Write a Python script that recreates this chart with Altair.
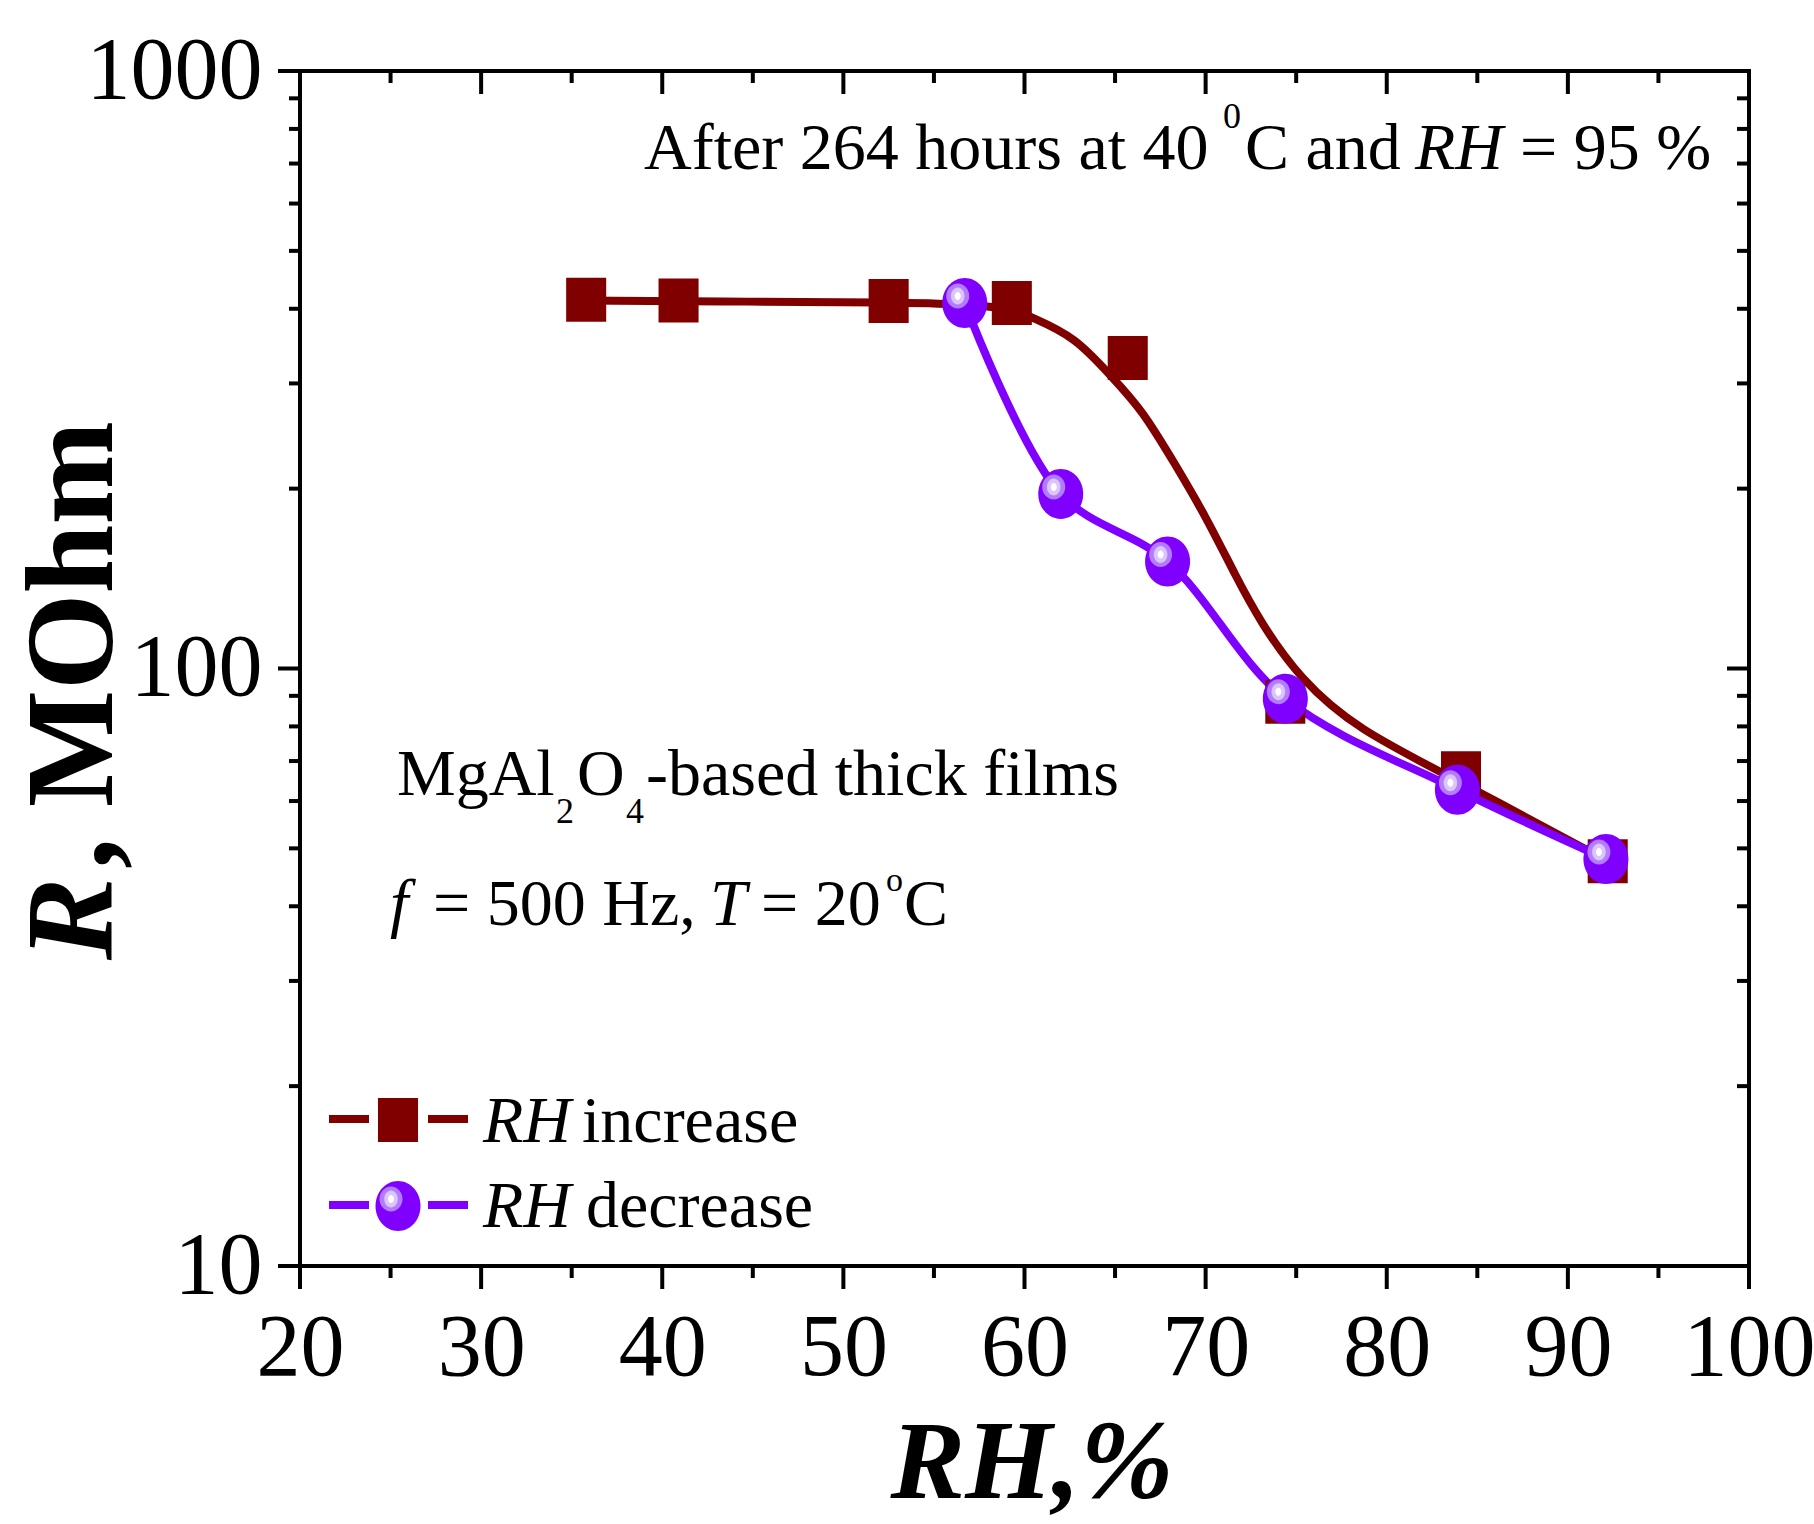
import altair as alt
import pandas as pd

# ---------------- data ----------------
rh_inc = [35.8, 40.9, 52.5, 59.3, 65.7, 74.4, 84.1, 92.2]
r_inc = [414, 413, 412, 409, 331, 88, 66.8, 47.6]

rh_dec = [56.7, 62.0, 67.9, 74.4, 83.9, 92.1]
r_dec = [409, 196, 151, 89, 62.7, 48]

# fitted (smooth) curve drawn through the "RH increase" data
fit_x = [35.8, 45.0, 52.5, 57.0, 59.3, 60.4, 62.8, 64.8, 66.5, 68.3, 70.0, 71.7, 73.0, 75.2, 78.4, 83.5, 92.2]
fit_y = [413, 411, 410, 407, 400, 387, 359, 308, 271, 220, 180, 142, 120, 96, 79, 66, 47.6]

x_major = [20, 30, 40, 50, 60, 70, 80, 90, 100]
x_minor = [25, 35, 45, 55, 65, 75, 85, 95]
y_major = [10, 100, 1000]
y_minor = [20, 30, 40, 50, 60, 70, 80, 90, 200, 300, 400, 500, 600, 700, 800, 900]

# ---------------- style ----------------
W, H = 1449, 1195
FONT = "Liberation Serif"
RED = "#800000"
PURPLE = "#8000FF"
LW = 8
FS = 66

xs = alt.Scale(domain=[20, 100], nice=False, zero=False)
ys = alt.Scale(type="log", domain=[10, 1000], nice=False)

X_AX = alt.Axis(values=x_major, ticks=False, tickSize=0, domain=False, grid=False,
                labelFont=FONT, labelFontSize=88, labelColor="black", labelPadding=38,
                labelFlush=False, labelOverlap=False, labelBound=False, title=None, format="d")
Y_AX = alt.Axis(values=y_major, ticks=False, tickSize=0, domain=False, grid=False,
                labelFont=FONT, labelFontSize=88, labelColor="black", labelPadding=38,
                labelFlush=False, labelOverlap=False, labelBound=False, title=None, format="d")


def ellipse(a, b=1.0, k=0.5523):
    f = lambda v: f"{v:.4f}"
    return (f"M{f(a)},0 C{f(a)},{f(b*k)} {f(a*k)},{f(b)} 0,{f(b)} "
            f"C{f(-a*k)},{f(b)} {f(-a)},{f(b*k)} {f(-a)},0 "
            f"C{f(-a)},{f(-b*k)} {f(-a*k)},{f(-b)} 0,{f(-b)} "
            f"C{f(a*k)},{f(-b)} {f(a)},{f(-b*k)} {f(a)},0 Z")


SQUARE = "M-0.91,-1 L0.91,-1 L0.91,1 L-0.91,1 Z"
ELL = ellipse(0.9)

one = pd.DataFrame({"a": [0]})

inc = pd.DataFrame({"rh": rh_inc, "r": r_inc})
dec = pd.DataFrame({"rh": rh_dec, "r": r_dec})
fit = pd.DataFrame({"rh": fit_x, "r": fit_y})


def XE(field):
    return alt.X(field, scale=xs, axis=X_AX)


def YE(field):
    return alt.Y(field, scale=ys, axis=Y_AX)


layers = []

# fitted red curve
layers.append(
    alt.Chart(fit).mark_line(color=RED, strokeWidth=LW, interpolate="basis").encode(
        x=XE("rh:Q"), y=YE("r:Q"))
)
# purple line
layers.append(
    alt.Chart(dec).mark_line(color=PURPLE, strokeWidth=LW, interpolate="catmull-rom").encode(
        x=XE("rh:Q"), y=YE("r:Q"))
)
# red squares
layers.append(
    alt.Chart(inc).mark_point(shape=SQUARE, size=44 * 44, filled=True, color=RED, opacity=1, strokeWidth=0).encode(
        x=XE("rh:Q"), y=YE("r:Q"))
)
# purple balls with highlight
ball_parts = [
    (ELL, 2500, PURPLE, 0, 0),
    (ellipse(0.92), 625, "#B27CFF", -7, -7),
    (ellipse(0.8), 289, "#DCC4FF", -7, -7),
    (ellipse(0.75), 64, "#FFFFFF", -7, -7),
]
for shp, sz, col, dx, dy in ball_parts:
    layers.append(
        alt.Chart(dec).mark_point(shape=shp, size=sz, filled=True, color=col, opacity=1, strokeWidth=0,
                                  xOffset=dx, yOffset=dy).encode(
            x=XE("rh:Q"), y=YE("r:Q"))
    )


# ---------------- ticks ----------------
def xticks(vals, y0, y1):
    return alt.Chart(pd.DataFrame({"v": vals})).mark_rule(color="black", strokeWidth=4).encode(
        x=XE("v:Q"), y=alt.value(y0), y2=alt.value(y1))


def yticks(vals, x0, x1):
    return alt.Chart(pd.DataFrame({"v": vals})).mark_rule(color="black", strokeWidth=4).encode(
        y=YE("v:Q"), x=alt.value(x0), x2=alt.value(x1))


layers += [
    xticks(x_major, H, H + 23), xticks(x_minor, H, H + 12),
    xticks(x_major, 0, 23), xticks(x_minor, 0, 12),
    yticks(y_major, 0, -22), yticks(y_minor, 0, -11),
    yticks(y_major, W, W - 22), yticks(y_minor, W, W - 12),
]


# ---------------- texts ----------------
def txt(s, x, y, size=FS, style="normal", weight="normal", angle=0, align="left"):
    return alt.Chart(one).mark_text(
        font=FONT, fontSize=size, fontStyle=style, fontWeight=weight, angle=angle,
        align=align, baseline="alphabetic", color="black").encode(
        x=alt.value(x), y=alt.value(y), text=alt.value(s))


layers += [
    # top annotation
    txt("After 264 hours at 40", 344, 98),
    txt("0", 923, 57, size=36),
    txt("C and", 945, 98),
    txt("RH", 1115, 98, style="italic"),
    txt("= 95 %", 1220, 98),
    # material
    txt("MgAl", 97, 724),
    txt("2", 256, 752, size=36),
    txt("O", 277, 724),
    txt("4", 326, 752, size=36),
    txt("-based thick films", 346, 724),
    # conditions
    txt("f", 90, 854, style="italic"),
    txt("= 500 Hz,", 133, 854),
    txt("T", 410, 854, style="italic"),
    txt("= 20", 461, 854),
    txt("o", 586, 820, size=34),
    txt("C", 604, 854),
    # axis titles
    txt("RH,%", 732, 1427, size=112, style="italic", weight="bold", align="center"),
    txt("R", -188, 889, size=124, style="italic", weight="bold", angle=270),
    txt(", MOhm", -188, 798, size=124, weight="bold", angle=270),
    # legend texts
    txt("RH", 183, 1071, style="italic"),
    txt("increase", 282, 1071),
    txt("RH", 183, 1156, style="italic"),
    txt("decrease", 286, 1156),
]


# ---------------- legend symbols ----------------
def seg(x0, x1, y, col):
    return alt.Chart(one).mark_rule(color=col, strokeWidth=LW, strokeCap="butt").encode(
        x=alt.value(x0), x2=alt.value(x1), y=alt.value(y))


def sym(shp, sz, col, x, y):
    return alt.Chart(one).mark_point(shape=shp, size=sz, filled=True, color=col, opacity=1, strokeWidth=0).encode(
        x=alt.value(x), y=alt.value(y))


layers += [
    seg(29, 69, 1048, RED), seg(128, 168, 1048, RED),
    sym(SQUARE, 44 * 44, RED, 98, 1049),
    seg(29, 69, 1134, PURPLE), seg(128, 168, 1134, PURPLE),
]
for shp, sz, col, dx, dy in ball_parts:
    layers.append(sym(shp, sz, col, 98 + dx, 1135 + dy))

chart = alt.layer(*layers).properties(
    width=W, height=H,
    autosize=alt.AutoSizeParams(type="none"),
    padding={"left": 300, "top": 71, "right": 65, "bottom": 258},
    background="white",
).configure_view(stroke="black", strokeWidth=4).configure_axis(grid=False)

chart.save("out.html", embed_options={"renderer": "svg", "actions": False})
